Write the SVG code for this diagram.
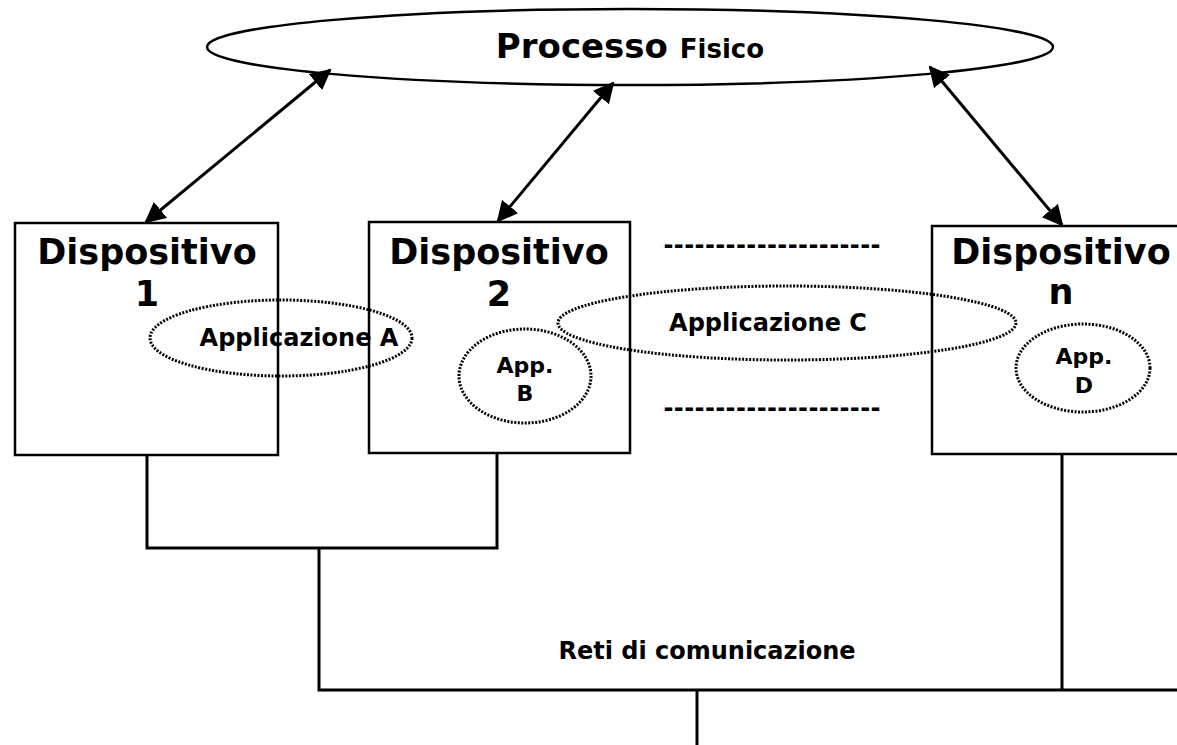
<svg xmlns="http://www.w3.org/2000/svg" width="1177" height="745" viewBox="0 0 1177 745">
<style>
text{font-family:"DejaVu Sans",Verdana,sans-serif;font-weight:bold;fill:#000;text-anchor:middle}
.box{fill:#fff;stroke:#000;stroke-width:2.5}
.app{fill:none;stroke:#000;stroke-width:3;stroke-dasharray:2 1.5}
.dev{font-size:35px}
.lbl{font-size:24px}
.sm{font-size:22px}
.ln{fill:none;stroke:#000;stroke-width:3}
</style>
<defs>
<marker id="ah" viewBox="0 0 10 10" refX="9" refY="5" markerWidth="7" markerHeight="7" markerUnits="strokeWidth" orient="auto-start-reverse">
<path d="M0,0 L10,5 L0,10 z" fill="#000"/>
</marker>
</defs>
<g id="processo">
<ellipse cx="630" cy="47" rx="423" ry="38" fill="#fff" stroke="#000" stroke-width="2.5"/>
<text x="630" y="58" style="font-size:34px">Processo <tspan style="font-size:26px">Fisico</tspan></text>
</g>
<g id="dispositivo1">
<rect class="box" x="15" y="223" width="263" height="232"/>
<text class="dev" x="147" y="264">Dispositivo</text>
<text class="dev" x="147" y="306">1</text>
</g>
<g id="dispositivo2">
<rect class="box" x="369" y="222" width="261" height="231"/>
<text class="dev" x="499" y="264">Dispositivo</text>
<text class="dev" x="499" y="306">2</text>
</g>
<g id="dispositivon">
<rect class="box" x="932" y="226" width="250" height="228"/>
<text class="dev" x="1061" y="264">Dispositivo</text>
<text class="dev" x="1061" y="304">n</text>
</g>
<g id="dashes">
<text class="lbl" x="772" y="253" textLength="217">---------------------</text>
<text class="lbl" x="772" y="416" textLength="217">---------------------</text>
</g>
<g id="appA">
<ellipse class="app" cx="281" cy="338" rx="131" ry="38"/>
<text class="lbl" x="299" y="346">Applicazione A</text>
</g>
<g id="appB">
<ellipse class="app" cx="525" cy="376" rx="66" ry="47"/>
<text class="sm" x="525" y="373">App.</text>
<text class="sm" x="525" y="401">B</text>
</g>
<g id="appC">
<ellipse class="app" cx="787" cy="323" rx="229" ry="37"/>
<text class="lbl" x="768" y="331">Applicazione C</text>
</g>
<g id="appD">
<ellipse class="app" cx="1083" cy="368" rx="67" ry="44"/>
<text class="sm" x="1084" y="364">App.</text>
<text class="sm" x="1084" y="393">D</text>
</g>
<g id="connectors">
<line class="ln" x1="330" y1="70" x2="146" y2="222" marker-start="url(#ah)" marker-end="url(#ah)"/>
<line class="ln" x1="613" y1="83" x2="498" y2="221" marker-start="url(#ah)" marker-end="url(#ah)"/>
<line class="ln" x1="930" y1="67" x2="1062" y2="225" marker-start="url(#ah)" marker-end="url(#ah)"/>
<polyline class="ln" points="147,455 147,548 497,548 497,453"/>
<polyline class="ln" points="319,548 319,690 1177,690"/>
<line class="ln" x1="1062" y1="454" x2="1062" y2="690"/>
<line class="ln" x1="697" y1="690" x2="697" y2="745"/>
<text x="707" y="659" style="font-size:24px">Reti di comunicazione</text>
</g>
</svg>
